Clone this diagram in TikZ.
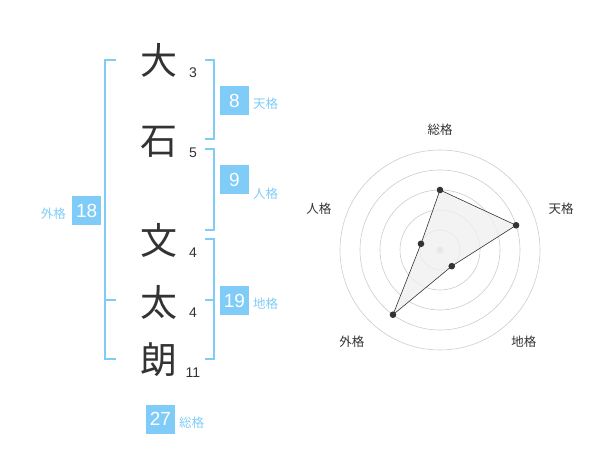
\documentclass[tikz,border=0pt]{standalone}
\usepackage{fontspec}
\newfontfamily\jpfont{Noto Sans CJK JP}
\newfontfamily\numfont{Liberation Sans}
\usetikzlibrary{calc}
\definecolor{skyb}{RGB}{128,204,248}
\definecolor{ink}{RGB}{51,51,51}
\definecolor{ringg}{RGB}{204,204,204}
\tikzset{
  kanji/.style={text=ink, inner sep=0, font=\jpfont\fontsize{37}{37}\selectfont},
  strokes/.style={text=ink, inner sep=0, font=\numfont\fontsize{14}{14}\selectfont},
  kakubox/.style={fill=skyb, text=white, minimum size=29pt, inner sep=0, font=\numfont\fontsize{19}{19}\selectfont},
  kakuname/.style={text=skyb, inner sep=0, font=\jpfont\fontsize{12.5}{12.5}\selectfont},
  bracket/.style={skyb, line width=2pt},
  radarname/.style={text=ink, inner sep=0, font=\jpfont\fontsize{12.5}{12.5}\selectfont}
}

\begin{document}
\begin{tikzpicture}[x=1pt, y=-1pt]
\useasboundingbox (0,0) rectangle (600,470);

% name and stroke counts
\foreach \c/\y/\s/\sy/\n in {大/60/3/72.7/a, 石/142/5/152.7/b, 文/240/4/253/c, 太/302/4/313/d, 朗/360/11/372.7/e} {
  \node[kanji] (k\n) at (159,\y) {\c};
  \node[strokes] (s\n) at (193,\sy) {\s};
}

% brackets
\draw[bracket] (205,60) -- (214,60) -- (214,139) -- (205,139);
\draw[bracket] (205,149) -- (214,149) -- (214,230) -- (205,230);
\draw[bracket] (205,239) -- (214,239) -- (214,359) -- (205,359);
\draw[bracket] (205,300) -- (214,300);
\draw[bracket] (116,60) -- (105,60) -- (105,359) -- (116,359);
\draw[bracket] (105,300) -- (116,300);

% boxes
\node[kakubox] (ten) at (234.5,100.5) {8};
\node[kakuname, anchor=west] (tenname) at (253,104) {天格};
\node[kakubox] (jin) at (234.5,180) {9};
\node[kakuname, anchor=west] (jinname) at (253,194) {人格};
\node[kakubox] (chi) at (234.5,300.5) {19};
\node[kakuname, anchor=west] (chiname) at (253,304) {地格};
\node[kakubox] (gai) at (86.7,210.5) {18};
\node[kakuname, anchor=east] (gainame) at (66,213.5) {外格};
\node[kakubox] (so) at (160.5,419) {27};
\node[kakuname, anchor=west] (soname) at (179,422.5) {総格};

% radar
\begin{scope}[shift={(440,250)}, yscale=-1]
\foreach \r in {20,40,...,100} \draw[ringg, line width=0.6pt] (0,0) circle (\r pt);
\fill[ringg] (0,0) circle (3.5pt);

\coordinate (pSo) at (90:60);
\coordinate (pTen) at (18:80);
\coordinate (pChi) at (-54:20);
\coordinate (pGai) at (-126:80);
\coordinate (pJin) at (162:20);
\draw[ink, fill=black!6, fill opacity=.8, line width=0.6pt] (pSo) -- (pTen) -- (pChi) -- (pGai) -- (pJin) -- cycle;
\foreach \p in {pSo,pTen,pChi,pGai,pJin} \fill[ink] (\p) circle (3.3pt);

\node[radarname] (rSo) at (90:120) {総格};
\node[radarname] (rTen) at (19:128) {天格};
\node[radarname] (rChi) at (-47.5:124) {地格};
\node[radarname] (rGai) at (-134:127) {外格};
\node[radarname] (rJin) at (161:128) {人格};
\end{scope}
\end{tikzpicture}
\end{document}
